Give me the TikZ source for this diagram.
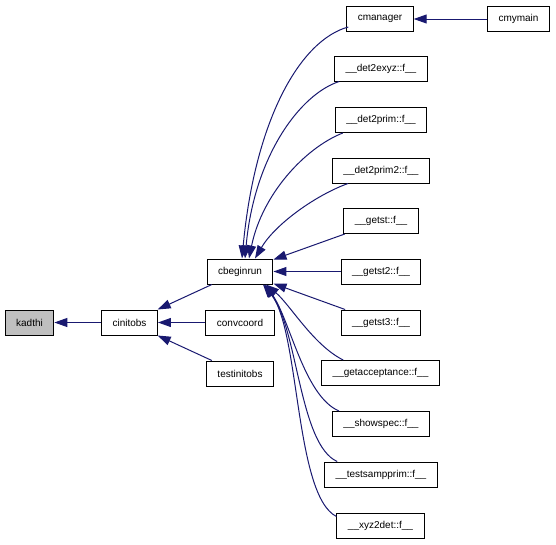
\documentclass[tikz,border=0pt]{standalone}
\usepackage{fontspec}
\setmainfont{Liberation Sans}
\usepackage{xcolor}
\usepackage{tikz}
\usetikzlibrary{arrows.meta,positioning,calc}
\definecolor{edgeblue}{RGB}{25,25,112}
\pgfkeys{tikz/fnbox/.style={draw=black,line width=1pt,inner xsep=11pt,inner ysep=0pt,minimum height=25pt,font=\fontsize{10}{12}\selectfont,fill=white}}
\pgfkeys{tikz/rootbox/.style={fnbox,fill=black!25}}
\pgfkeys{tikz/call/.style={draw=edgeblue,line width=1pt,-{Triangle[length=13pt,width=9pt]}}}

\begin{document}
\begin{tikzpicture}[x=1pt,y=1pt]
  \useasboundingbox (0,0) rectangle (556,-544);
  % left part
  \node[rootbox] (kadthi) at (29.5,-322.5) {kadthi};
  \node[fnbox] (cinitobs) at (129.5,-322.5) {cinitobs};
  \node[fnbox] (cbeginrun) at (240,-271.5) {cbeginrun};
  \node[fnbox] (convcoord) at (240,-322.5) {convcoord};
  \node[fnbox] (testinitobs) at (240,-373.5) {testinitobs};
  % right column
  \node[fnbox] (cmanager) at (380,-19) {cmanager};
  \node[fnbox] (cmymain) at (518.5,-19) {cmymain};
  \node[fnbox] (det2exyz) at (381,-68.5) {\_\_det2exyz::f\_\_};
  \node[fnbox] (det2prim) at (381,-120) {\_\_det2prim::f\_\_};
  \node[fnbox] (det2prim2) at (381,-170.5) {\_\_det2prim2::f\_\_};
  \node[fnbox] (getst) at (381,-221) {\_\_getst::f\_\_};
  \node[fnbox] (getst2) at (381,-271.5) {\_\_getst2::f\_\_};
  \node[fnbox] (getst3) at (381,-322.5) {\_\_getst3::f\_\_};
  \node[fnbox] (getacceptance) at (380.5,-373) {\_\_getacceptance::f\_\_};
  \node[fnbox] (showspec) at (381,-424) {\_\_showspec::f\_\_};
  \node[fnbox] (testsampprim) at (381,-474.5) {\_\_testsampprim::f\_\_};
  \node[fnbox] (xyz2det) at (380.5,-525.5) {\_\_xyz2det::f\_\_};

  % straight calls
  \draw[call] (cinitobs) -- (kadthi);
  \draw[call] (cbeginrun) -- (cinitobs);
  \draw[call] (convcoord) -- (cinitobs);
  \draw[call] (testinitobs) -- (cinitobs);
  \draw[call] (cmymain) -- (cmanager);
  \draw[call] (getst) -- (cbeginrun);
  \draw[call] (getst2) -- (cbeginrun);
  \draw[call] (getst3) -- (cbeginrun);

  % curved calls into the top of cbeginrun
  \draw[call] ($(cmanager.west)+(2,-8)$) .. controls +(-48,-13) and +(13,139) .. ($(cbeginrun.north)+(2,0)$);
  \draw[call] ($(det2exyz.south west)+(5,0)$) .. controls +(-40,-13) and +(9,101) .. ($(cbeginrun.north)+(5,0)$);
  \draw[call] ($(det2prim.south west)+(8,0)$) .. controls +(-38,-15) and +(13,64) .. ($(cbeginrun.north)+(9,0)$);
  \draw[call] ($(det2prim2.south west)+(16,0)$) .. controls +(-33,-12) and +(20,34) .. ($(cbeginrun.north)+(15,0)$);

  % curved calls into the bottom of cbeginrun
  \draw[call] ($(getacceptance.north west)+(22,0)$) .. controls +(-30,15) and +(24,-20) .. ($(cbeginrun.south)+(26,0)$);
  \draw[call] ($(showspec.north west)+(7,0)$) .. controls +(-35,15) and +(25,-35) .. ($(cbeginrun.south)+(25,0)$);
  \draw[call] ($(testsampprim.north west)+(13,0)$) .. controls +(-38,17) and +(34,-45) .. ($(cbeginrun.south)+(24,0)$);
  \draw[call] ($(xyz2det.west)+(0,9)$) .. controls +(-42,21) and +(37,-45) .. ($(cbeginrun.south)+(23,0)$);
\end{tikzpicture}
\end{document}
